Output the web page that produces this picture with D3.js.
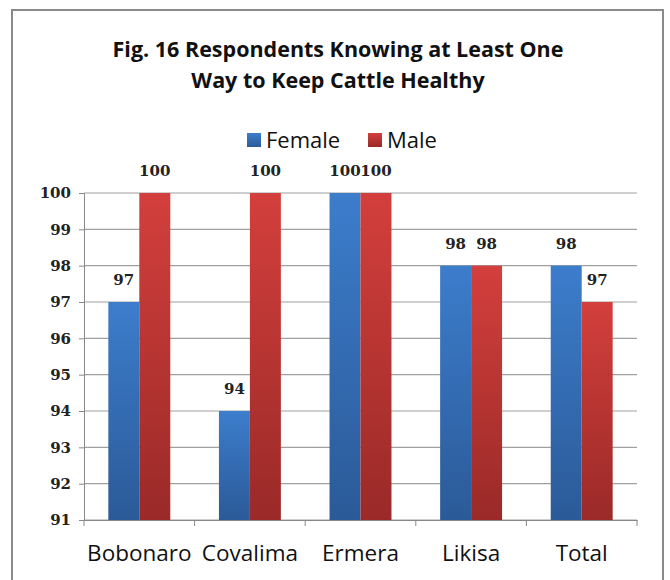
<!DOCTYPE html>
<html lang="en">
<head>
  <meta charset="UTF-8">
  <title>Fig. 16</title>
  <style>
    body { margin: 0; background: #fff; }
    .titulo { font-family: "Open Sans", Lato, sans-serif; font-weight: bold; font-size: 21.5px; fill: #111; text-anchor: middle; }
    .legenda { font-family: "Open Sans", Lato, sans-serif; font-size: 22px; fill: #111; }
    .eixo-y text { font-family: "DejaVu Serif", serif; font-weight: bold; font-size: 15px; fill: #222; }
    .eixo-x text { font-family: "Open Sans", Lato, sans-serif; font-size: 22.5px; fill: #111; }
    .rotulo { font-family: "DejaVu Serif", serif; font-weight: bold; font-size: 15px; fill: #222; text-anchor: middle; }
  </style>
</head>
<body>
  <svg id="grafico"></svg>

  <script src="https://d3js.org/d3.v7.min.js"></script>
  <script>
    const categorias = ['Bobonaro', 'Covalima', 'Ermera', 'Likisa', 'Total'];
    const series = ['Female', 'Male'];
    const feminino = [97, 94, 100, 98, 98];
    const masculino = [100, 100, 100, 98, 97];
    const ticksY = [91, 92, 93, 94, 95, 96, 97, 98, 99, 100];

    function executa() {
      const largura = 670, altura = 580;
      const margem = { top: 193, right: 33, bottom: 60, left: 84 };
      const svg = d3.select('#grafico').attr('width', largura).attr('height', altura);

      // gradientes
      const defs = svg.append('defs');
      const cores = { Female: ['#3c7dcc', '#2b5a98'], Male: ['#d33f3c', '#9a2a28'] };
      series.forEach(s => {
        const g = defs.append('linearGradient').attr('id', 'g-' + s)
          .attr('x1', 0).attr('y1', 0).attr('x2', 0).attr('y2', 1);
        g.append('stop').attr('offset', '0%').attr('stop-color', cores[s][0]);
        g.append('stop').attr('offset', '100%').attr('stop-color', cores[s][1]);
      });

      // moldura
      svg.append('rect').attr('x', 12).attr('y', 10).attr('width', 651).attr('height', 600)
        .attr('fill', 'none').attr('stroke', '#8a8a8a').attr('stroke-width', 2);

      // titulo
      svg.append('text').classed('titulo', true).attr('x', 338).attr('y', 57)
        .text('Fig. 16 Respondents Knowing at Least One');
      svg.append('text').classed('titulo', true).attr('x', 338).attr('y', 88)
        .text('Way to Keep Cattle Healthy');

      // legenda
      const leg = svg.append('g');
      const posLeg = [247, 368];
      series.forEach((s, i) => {
        leg.append('rect').attr('x', posLeg[i]).attr('y', 133).attr('width', 14).attr('height', 14)
          .attr('fill', 'url(#g-' + s + ')');
        leg.append('text').classed('legenda', true).attr('x', posLeg[i] + 19).attr('y', 148).text(s);
      });

      const w = largura - margem.left - margem.right;
      const h = altura - margem.top - margem.bottom;
      const plot = svg.append('g').attr('transform', `translate(${margem.left},${margem.top})`);

      const x = d3.scaleBand().domain(categorias).range([0, w]).paddingInner(0.44).paddingOuter(0.22);
      const xs = d3.scaleBand().domain(series).range([0, x.bandwidth()]);
      const y = d3.scaleLinear().domain([91, 100]).range([h, 0]);

      // grade
      plot.selectAll('.grade').data(ticksY).enter().append('line')
        .attr('x1', 0).attr('x2', w).attr('y1', d => y(d)).attr('y2', d => y(d))
        .attr('stroke', '#a0a0a0').attr('stroke-width', 1.2);

      // eixo y
      const eixoY = plot.append('g').classed('eixo-y', true)
        .call(d3.axisLeft(y).tickValues(ticksY).tickSize(5).tickPadding(8));
      eixoY.selectAll('line, path').attr('stroke', '#888');

      // barras
      const dados = categorias.map((c, i) => ({ c, Female: feminino[i], Male: masculino[i] }));
      const grupos = plot.selectAll('.grupo').data(dados).enter().append('g')
        .attr('transform', d => `translate(${x(d.c)},0)`);
      grupos.selectAll('rect').data(d => series.map(s => ({ s, v: d[s] }))).enter().append('rect')
        .attr('x', d => xs(d.s)).attr('width', xs.bandwidth())
        .attr('y', d => y(d.v)).attr('height', d => h - y(d.v))
        .attr('fill', d => 'url(#g-' + d.s + ')');
      grupos.selectAll('.rotulo').data(d => series.map(s => ({ s, v: d[s] }))).enter().append('text')
        .classed('rotulo', true)
        .attr('x', d => xs(d.s) + xs.bandwidth() / 2)
        .attr('y', d => y(d.v) - 17)
        .text(d => d.v);

      // eixo x
      const eixoX = plot.append('g').classed('eixo-x', true).attr('transform', `translate(0,${h})`)
        .call(d3.axisBottom(x).tickSize(0).tickPadding(25));
      eixoX.select('path').attr('stroke', '#888');
      const limites = d3.range(categorias.length + 1).map(i => i * w / categorias.length);
      eixoX.selectAll('.marca').data(limites).enter().append('line')
        .attr('x1', d => d).attr('x2', d => d).attr('y1', 0).attr('y2', 6).attr('stroke', '#888');
    }

    executa();
  </script>
</body>
</html>
